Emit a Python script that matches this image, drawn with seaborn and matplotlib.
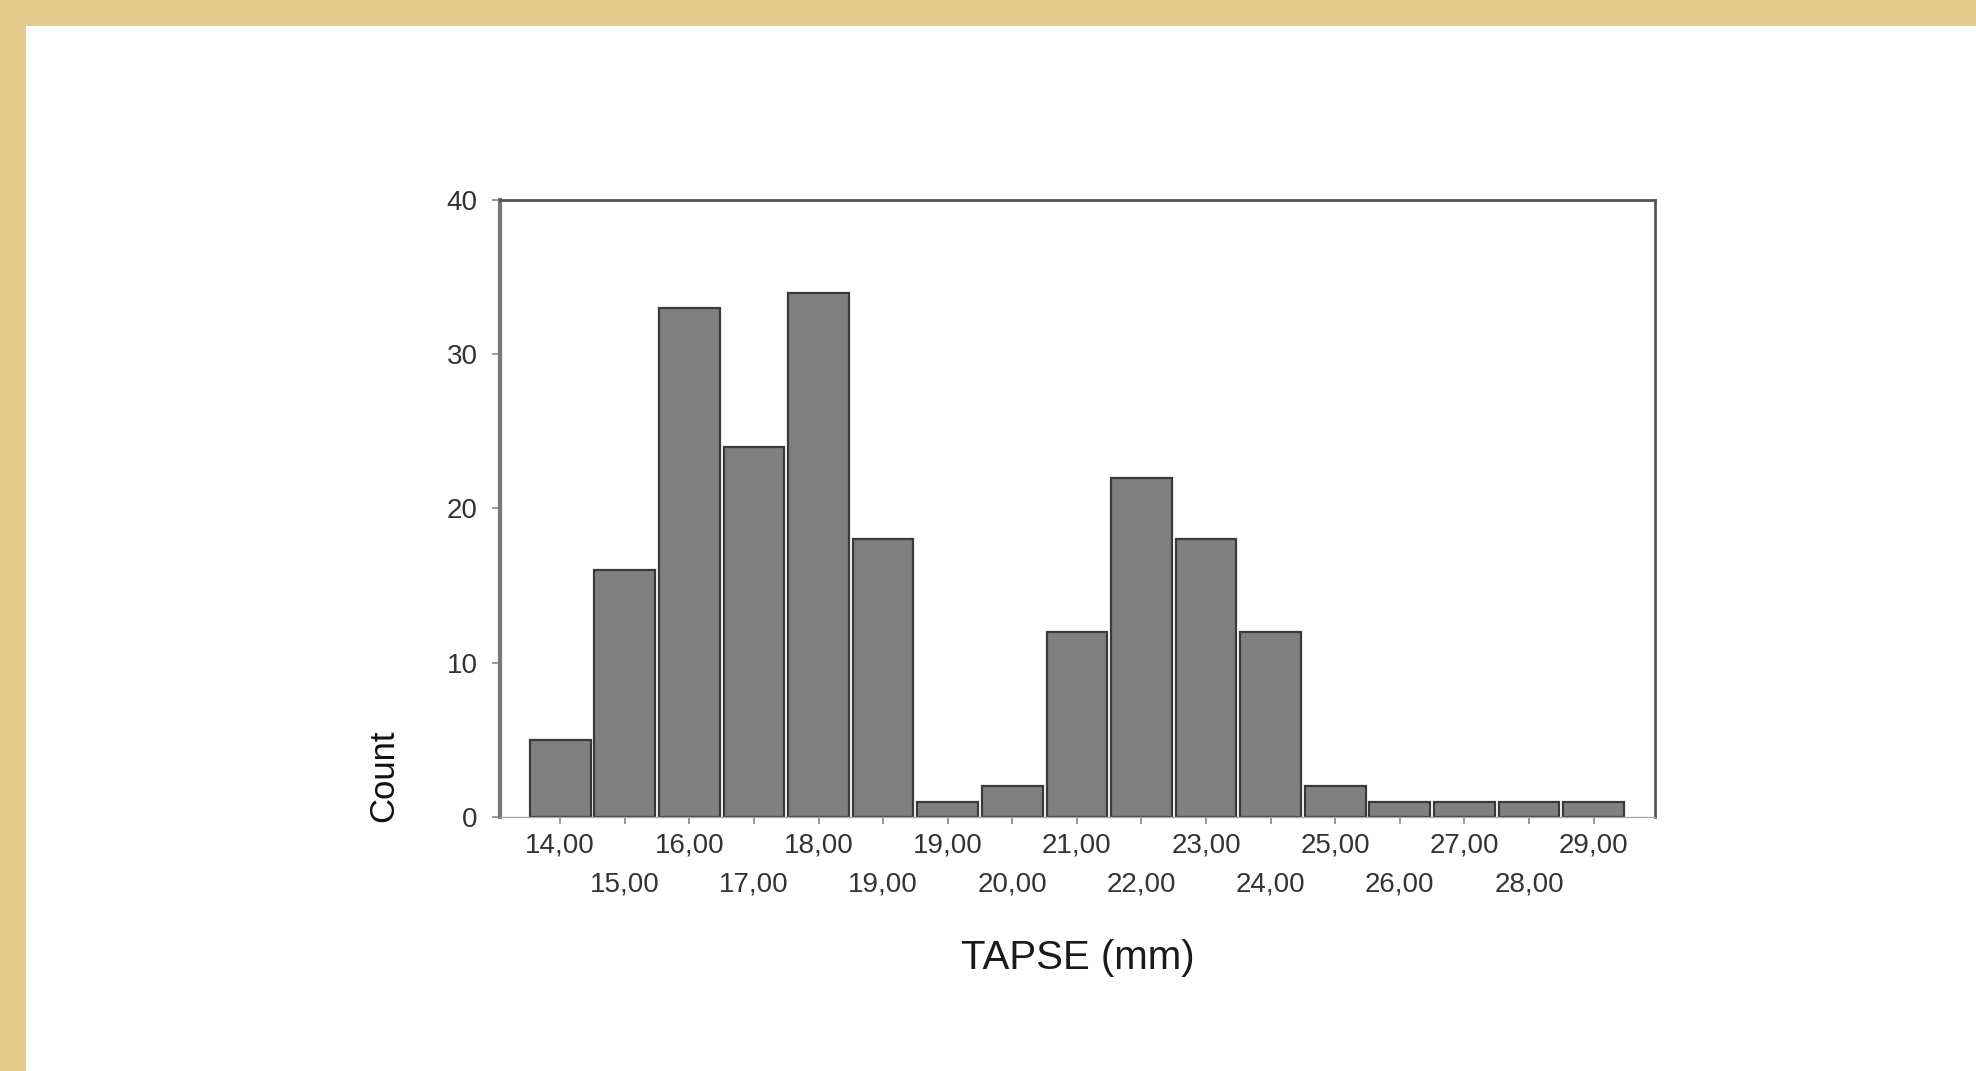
import pandas as pd
import numpy as np
import matplotlib
matplotlib.use("Agg")
import matplotlib.pyplot as plt
import seaborn as sns
from matplotlib.patches import Rectangle

# bins of TAPSE (mm) and their counts
bin_labels = ["14,00", "15,00", "16,00", "17,00", "18,00", "19,00", "19,00",
              "20,00", "21,00", "22,00", "23,00", "24,00", "25,00", "26,00",
              "27,00", "28,00", "29,00"]
counts = [5, 16, 33, 24, 34, 18, 1, 2, 12, 22, 18, 12, 2, 1, 1, 1, 1]
y_ticks = [0, 10, 20, 30, 40]

sns.set_style("white")
plt.rcParams['font.family'] = ['Liberation Sans', 'DejaVu Sans']

df = pd.DataFrame({'pos': list(range(len(counts))), 'Count': counts})

fig = plt.figure(figsize=(19.76, 10.71), dpi=100)
fig.patch.set_facecolor('#e6c98c')
# white slide panel (behind the axes)
fig.patches.append(Rectangle((0.0132, 0.0), 1.0, 0.9757, transform=fig.transFigure,
                             facecolor='white', edgecolor='none', zorder=-5))

ax = fig.add_axes([0.2530, 0.2372, 0.5845, 0.5761])
ax.set_facecolor('white')
sns.barplot(data=df, x='pos', y='Count', color='#808080', saturation=1,
            width=0.94, edgecolor='#3a3a3a', linewidth=1.6, ax=ax)

ax.set_xlim(-0.933, 16.95)
ax.set_ylim(0, 40)
ax.set_yticks(y_ticks, labels=[str(v) for v in y_ticks])

pos = np.arange(len(bin_labels))
ax.set_xticks(pos[::2], labels=bin_labels[::2])
ax.set_xticks(pos[1::2], labels=bin_labels[1::2], minor=True)

ax.tick_params(axis='x', which='major', length=5, width=1.2, color='#888888',
               pad=6, labelsize=20, labelcolor='#333333', direction='out', bottom=True)
ax.tick_params(axis='x', which='minor', length=5, width=1.2, color='#888888',
               pad=34, labelsize=20, labelcolor='#333333', direction='out', bottom=True)
ax.tick_params(axis='y', length=6, width=1.2, color='#888888', pad=10,
               labelsize=20, labelcolor='#333333', direction='out', left=True)

for s in ['top', 'right']:
    ax.spines[s].set_color('#555555')
    ax.spines[s].set_linewidth(2)
ax.spines['left'].set_color('#777777')
ax.spines['left'].set_linewidth(3)
ax.spines['bottom'].set_color('#aaaaaa')
ax.spines['bottom'].set_linewidth(1)

ax.set_xlabel('TAPSE (mm)', fontsize=29, color='#1a1a1a')
ax.xaxis.set_label_coords(0.5, -0.198)
ax.xaxis.label.set_va('top')
ax.set_ylabel('Count', fontsize=25, color='#111111',
              family=['Liberation Sans Narrow', 'Liberation Sans'])
ax.yaxis.set_label_coords(-0.086, 0.066)

fig.savefig('out.png', dpi=100, facecolor=fig.get_facecolor())
